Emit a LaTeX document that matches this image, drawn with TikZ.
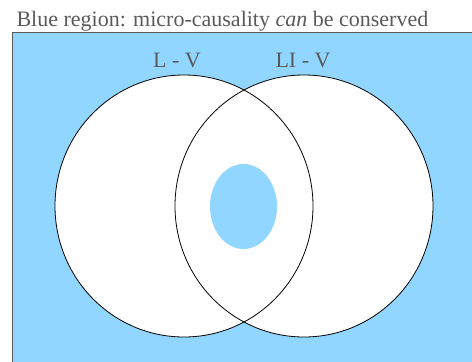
\documentclass[tikz,border=0pt]{standalone}
\usepackage{fontspec}
\setmainfont{Liberation Serif}[Ligatures=TeX]
\usetikzlibrary{shapes.geometric, positioning}
\definecolor{skyblue}{RGB}{145,214,255}
\definecolor{labelgray}{RGB}{90,90,90}
\newfontfamily\timesfont{Liberation Serif}

\begin{document}
\begin{tikzpicture}[
    x=1pt, y=-1pt,
    region/.style={ellipse, draw=black, line width=0.8pt, fill=white, inner sep=0pt, minimum width=258pt, minimum height=262pt},
    hole/.style={ellipse, fill=skyblue, inner sep=0pt, minimum width=67pt, minimum height=85pt},
    setlabel/.style={anchor=base, text=labelgray, font=\timesfont\fontsize{22}{24}\selectfont}
]
\useasboundingbox (0,0) rectangle (472,362);

% BACKGROUND
\draw[draw=labelgray, line width=0.8pt, fill=skyblue] (12,32) rectangle (474,364);
\node[anchor=base west, text=labelgray, font=\timesfont\fontsize{22}{24}\selectfont] (title) at (13,26) {Blue region: micro-causality \textit{can} be conserved};

% THE TWO SETS
\node[region, draw=none] (lv) at (184,206) {};
\node[region, draw=none] (liv) at (304,206) {};
\node[region, fill=none] at (lv) {};
\node[region, fill=none] at (liv) {};
\node[hole] (core) at (243.5,206.5) {};

\node[setlabel] (lv_lbl) at (177,67) {L - V};
\node[setlabel] (liv_lbl) at (303,67) {LI - V};

\end{tikzpicture}
\end{document}
